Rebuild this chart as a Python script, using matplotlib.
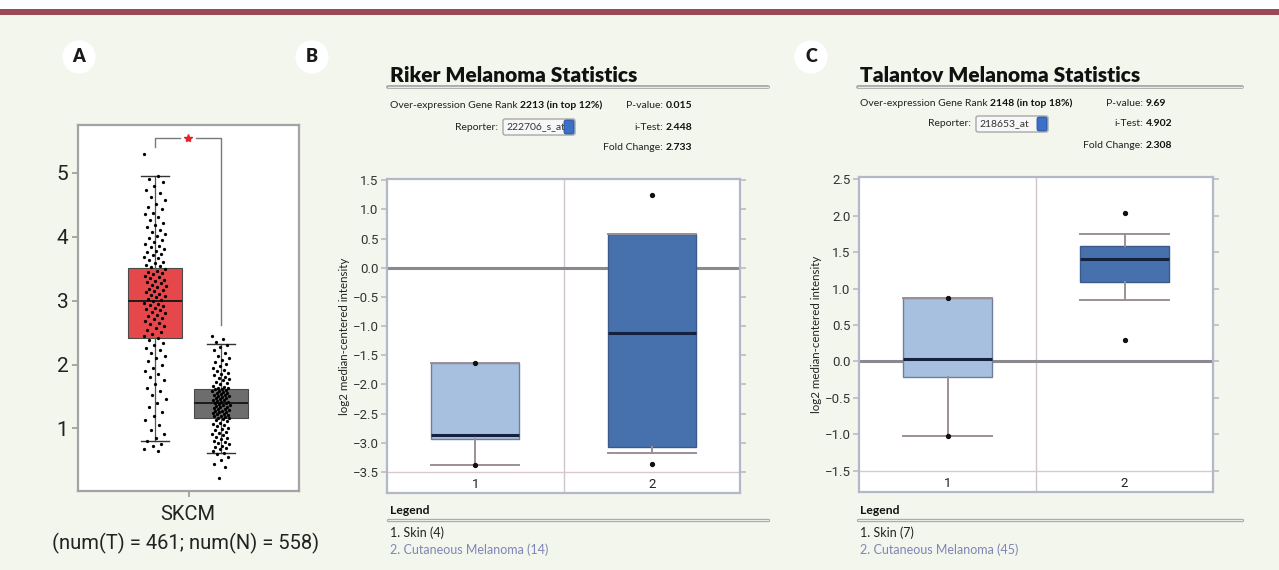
import matplotlib
matplotlib.use('Agg')
import matplotlib.pyplot as plt
from matplotlib.patches import Rectangle, FancyBboxPatch

W, H = 1279, 570
BG = '#f3f6ec'
NARROW = ['Roboto', 'DejaVu Sans']
HUMAN = ['Lato', 'DejaVu Sans']

# ---- A: GEPIA, SKCM tumour vs normal ----
gepia_name = 'SKCM'
gepia_counts = [461, 558]
gepia_med = [3.00, 1.39]
gepia_q1 = [2.42, 1.16]
gepia_q3 = [3.51, 1.62]
gepia_lo = [0.80, 0.61]
gepia_hi = [4.95, 2.32]
gepia_colors = ['#e5474b', '#6d6d6d']

tumor_points = [
    5.30, 4.95, 4.90, 4.86, 4.80, 4.74, 4.69, 4.62, 4.58, 4.52,
    4.47, 4.43, 4.38, 4.35, 4.31, 4.27, 4.22, 4.18, 4.15, 4.11, 4.08, 4.04, 4.01,
    3.98, 3.95, 3.92, 3.89, 3.86, 3.84, 3.81, 3.78, 3.76, 3.73, 3.71, 3.68, 3.66,
    3.63, 3.61, 3.59, 3.56, 3.54, 3.52,
    3.49, 3.47, 3.45, 3.43, 3.41, 3.39, 3.37, 3.35, 3.33, 3.31, 3.29, 3.27, 3.25,
    3.23, 3.21, 3.19, 3.17, 3.15, 3.13, 3.11, 3.09, 3.07, 3.05, 3.03, 3.01,
    2.99, 2.97, 2.95, 2.93, 2.91, 2.89, 2.87, 2.85, 2.83, 2.80, 2.78, 2.76, 2.73,
    2.71, 2.68, 2.65, 2.63, 2.60, 2.57, 2.54, 2.51, 2.48, 2.45, 2.42,
    2.38, 2.34, 2.30, 2.26, 2.22, 2.18, 2.14, 2.10, 2.05, 2.00, 1.95, 1.90, 1.85,
    1.80, 1.75, 1.70, 1.64, 1.58, 1.52,
    1.46, 1.40, 1.33, 1.26, 1.20, 1.13, 1.05, 0.98, 0.91, 0.85, 0.80, 0.76, 0.72,
    0.68, 0.64,
]
normal_points = [
    2.45, 2.40, 2.36, 2.31, 2.27, 2.22, 2.18, 2.14, 2.10, 2.07, 2.04, 2.01, 1.98,
    1.95, 1.92, 1.90, 1.87, 1.85, 1.83, 1.81, 1.79, 1.77, 1.75, 1.73, 1.71, 1.69,
    1.67, 1.65, 1.64, 1.63, 1.62, 1.61, 1.60, 1.59, 1.58, 1.57, 1.56, 1.55, 1.54,
    1.53, 1.52, 1.51, 1.50, 1.49, 1.48, 1.47, 1.46, 1.45, 1.44, 1.43, 1.42, 1.41,
    1.40, 1.39, 1.38, 1.37, 1.36, 1.35, 1.34, 1.33, 1.32, 1.31, 1.30, 1.29, 1.28,
    1.27, 1.26, 1.25, 1.24, 1.23, 1.22, 1.21, 1.20, 1.19, 1.18, 1.17, 1.16, 1.15,
    1.13, 1.11, 1.09, 1.07, 1.05, 1.03, 1.01, 0.99, 0.97, 0.95, 0.93, 0.91, 0.89,
    0.87, 0.85, 0.83, 0.81, 0.79, 0.77, 0.75, 0.73, 0.71, 0.69, 0.67, 0.65, 0.62,
    0.60, 0.55, 0.50, 0.45, 0.40, 0.22,
]

# ---- B: Riker ----
riker_title = 'Riker Melanoma Statistics'
riker_rank = ['2213', '12%']
riker_reporter = '222706_s_at'
riker_stats = [('P-value:', '0.015'), ('i-Test:', '2.448'), ('Fold Change:', '2.733')]
riker_med = [-2.86, -1.12]
riker_q1 = [-2.93, -3.07]
riker_q3 = [-1.63, 0.57]
riker_lo = [-3.38, -3.18]
riker_hi = [-1.63, 0.57]
riker_dots = [[-1.63, -3.38], [1.25, -3.36]]
riker_n = [4, 14]
riker_yticks = [1.5, 1.0, 0.5, 0.0, -0.5, -1.0, -1.5, -2.0, -2.5, -3.0, -3.5]

# ---- C: Talantov ----
talantov_title = 'Talantov Melanoma Statistics'
talantov_rank = ['2148', '18%']
talantov_reporter = '218653_at'
talantov_stats = [('P-value:', '9.69'), ('i-Test:', '4.902'), ('Fold Change:', '2.308')]
talantov_med = [0.03, 1.41]
talantov_q1 = [-0.21, 1.09]
talantov_q3 = [0.87, 1.58]
talantov_lo = [-1.02, 0.84]
talantov_hi = [0.87, 1.75]
talantov_dots = [[0.87, -1.02], [2.03, 0.29]]
talantov_n = [7, 45]
talantov_yticks = [2.5, 2.0, 1.5, 1.0, 0.5, 0.0, -0.5, -1.0, -1.5]

group_names = ['Skin', 'Cutaneous Melanoma']


def px_rect(x0, y0, x1, y1):
    return [x0 / W, 1 - y1 / H, (x1 - x0) / W, (y1 - y0) / H]


fig = plt.figure(figsize=(W / 100, H / 100), dpi=100, facecolor=BG)
bg = fig.add_axes([0, 0, 1, 1])
bg.set_xlim(0, W)
bg.set_ylim(H, 0)
bg.axis('off')

# top band
bg.add_patch(Rectangle((0, 0), W, 9, color='white', lw=0))
bg.add_patch(Rectangle((0, 9), W, 5.5, color='#9b4954', lw=0))

# panel letters
for letter, x in [('A', 79), ('B', 312), ('C', 811)]:
    bg.text(x, 57, letter, ha='center', va='center', fontsize=13,
            fontweight='heavy', family=HUMAN, color='#1a1a1a',
            bbox=dict(boxstyle='circle,pad=0.45', fc='white', ec='none'))

# ---------------- panel A ----------------
axA = fig.add_axes(px_rect(78, 125, 299, 491))
posA = [0.348, 0.647]
statsA = [dict(med=gepia_med[i], q1=gepia_q1[i], q3=gepia_q3[i],
               whislo=gepia_lo[i], whishi=gepia_hi[i], fliers=[])
          for i in range(2)]
bpA = axA.bxp(statsA, positions=posA, widths=0.245, capwidths=0.13,
              patch_artist=True, showfliers=False,
              medianprops=dict(color='#1b1b1b', lw=1.4),
              whiskerprops=dict(color='#555555', lw=0.9),
              capprops=dict(color='#333333', lw=1.0),
              boxprops=dict(lw=0.8))
for patch, c in zip(bpA['boxes'], gepia_colors):
    patch.set_facecolor(c)
    patch.set_edgecolor('#4a4a4a')

# jittered points; the offsets only spread the dots sideways
for pos, pts, spread in [(posA[0], tumor_points, 0.05), (posA[1], normal_points, 0.04)]:
    xs = [pos + ((i * 0.6180339) % 1 - 0.5) * 2 * spread for i in range(len(pts))]
    axA.scatter(xs, pts, s=5.5, color='black', lw=0, zorder=5)

# significance bracket
br_y = 5.55
axA.plot([posA[0], posA[0], 0.46], [5.40, br_y, br_y], color='#7a7a7a', lw=1.0)
axA.plot([0.535, posA[1], posA[1]], [br_y, br_y, 2.62], color='#7a7a7a', lw=1.0)
axA.plot([0.498], [br_y], marker='*', color='#e8212b', markersize=6, lw=0)

axA.set_xlim(0, 1)
axA.set_ylim(0.02, 5.75)
axA.set_yticks([1, 2, 3, 4, 5])
axA.set_yticklabels(['1', '2', '3', '4', '5'], family=NARROW, fontsize=15,
                    color='#222222')
axA.set_xticks([0.5])
axA.set_xticklabels([''])
axA.tick_params(axis='both', color='#9a9a9a', length=4, width=1.2, pad=3)
for s in axA.spines.values():
    s.set_color('#a3a3a3')
    s.set_linewidth(1.6)
axA.set_facecolor('white')
bg.text(188, 515, gepia_name, ha='center', va='center', fontsize=14.5,
        family=NARROW, color='#222222')
bg.text(186, 543, f'(num(T) = {gepia_counts[0]}; num(N) = {gepia_counts[1]})',
        ha='center', va='center', fontsize=14.5, family=NARROW, color='#222222')


# ---------------- panels B and C ----------------
def header(x0, x_col, x_line1, y_title, y_rows, title, rank, reporter, stats, box_x):
    bg.text(x0, y_title, title, ha='left', va='baseline', fontsize=15,
            fontweight='heavy', family=HUMAN, color='#111111')
    bg.plot([x0 - 2, x_line1], [y_title + 5, y_title + 5], color='#a9a9a9',
            lw=2.8, solid_capstyle='round')
    bg.plot([x0 - 2, x_line1], [y_title + 5, y_title + 5], color='#e9e9e9',
            lw=0.9, solid_capstyle='round')
    t = bg.text(x0, y_rows[0], 'Over-expression Gene Rank ', ha='left', va='center',
                fontsize=7.5, family=HUMAN, color='#222222')
    bg.annotate(f'{rank[0]} (in top {rank[1]})', xy=(1, 0.5), xycoords=t,
                ha='left', va='center', fontsize=7.5, fontweight='bold',
                family=HUMAN, color='#111111')
    for (lab, val), yy in zip(stats, y_rows):
        bg.text(x_col, yy, lab, ha='right', va='center', fontsize=7.5,
                family=HUMAN, color='#222222')
        bg.text(x_col + 3, yy, val, ha='left', va='center', fontsize=7.5,
                fontweight='bold', family=HUMAN, color='#111111')
    bg.text(box_x - 5, y_rows[1], 'Reporter:', ha='right', va='center',
            fontsize=7.5, family=HUMAN, color='#222222')
    bg.add_patch(FancyBboxPatch((box_x, y_rows[1] - 8), 72, 16,
                                boxstyle='round,pad=0,rounding_size=2',
                                fc='#f7f7f7', ec='#a8a8a8', lw=1.0))
    bg.add_patch(FancyBboxPatch((box_x + 61, y_rows[1] - 7), 10, 14,
                                boxstyle='round,pad=0,rounding_size=2',
                                fc='#3c6fc6', ec='#28509a', lw=0.6))
    bg.text(box_x + 3, y_rows[1], reporter, ha='left', va='center', fontsize=7.5,
            family=HUMAN, color='#333333')


def oncomine(rect, ylim, yticks, med, q1, q3, lo, hi, dots):
    ax = fig.add_axes(rect)
    ax.set_facecolor('white')
    stats = [dict(med=med[i], q1=q1[i], q3=q3[i], whislo=lo[i], whishi=hi[i],
                  fliers=dots[i]) for i in range(2)]
    bp = ax.bxp(stats, positions=[1, 2], widths=0.5, capwidths=0.5,
                patch_artist=True, zorder=3,
                medianprops=dict(color='#14213f', lw=2.2),
                whiskerprops=dict(color='#9c8f96', lw=1.4),
                capprops=dict(color='#9c8f96', lw=1.4),
                boxprops=dict(lw=1.0),
                flierprops=dict(marker='o', markersize=2.8, mfc='#111111',
                                mec='#111111', lw=0))
    for patch, fc, ec in zip(bp['boxes'], ['#a8c0df', '#4771ad'], ['#6d7f99', '#3a5a8c']):
        patch.set_facecolor(fc)
        patch.set_edgecolor(ec)
    ax.axhline(0, color='#8b8890', lw=2.2, zorder=2)
    ax.axhline(yticks[-1], color='#d9c9cd', lw=1.0, zorder=2)
    ax.axvline(1.5, color='#cfc6cc', lw=1.0, zorder=1)
    ax.set_xlim(0.5, 2.5)
    ax.set_ylim(*ylim)
    ax.set_yticks(yticks)
    ax.set_yticklabels([f'{v:.1f}'.replace('-', '\u2212') for v in yticks],
                       family=NARROW, fontsize=9.5, color='#333333')
    ax.set_xticks([1, 2])
    ax.set_xticklabels(['1', '2'], family=NARROW, fontsize=9.5, color='#222222')
    ax.tick_params(axis='x', length=0, pad=-11)
    ax.tick_params(axis='y', length=4, width=1.2, color='#b7bccb', pad=2,
                   right=True)
    for s in ax.spines.values():
        s.set_color('#b3b7c6')
        s.set_linewidth(1.6)
    ax.set_ylabel('log2 median-centered intensity', family=HUMAN, fontsize=8.3,
                  color='#222222', labelpad=2)
    return ax


def legend_block(x0, x1, ns):
    bg.text(x0, 511, 'Legend', ha='left', va='center', fontsize=8.7,
            fontweight='bold', family=HUMAN, color='#111111')
    bg.plot([x0 - 2, x1], [520, 520], color='#a9a9a9', lw=2.4, solid_capstyle='round')
    bg.plot([x0 - 2, x1], [520, 520], color='#e9e9e9', lw=0.8, solid_capstyle='round')
    bg.text(x0, 533, f'1. {group_names[0]} ({ns[0]})', ha='left', va='center',
            fontsize=9, family=HUMAN, color='#222222')
    bg.text(x0, 550, f'2. {group_names[1]} ({ns[1]})', ha='left', va='center',
            fontsize=9, family=HUMAN, color='#7f85b6')


header(390, 663, 768, 82, [105, 127, 148], riker_title, riker_rank,
       riker_reporter, riker_stats, 503)
axB = oncomine(px_rect(387, 179, 740, 493), (-3.86, 1.52), riker_yticks,
               riker_med, riker_q1, riker_q3, riker_lo, riker_hi, riker_dots)
legend_block(390, 768, riker_n)

header(860, 1143, 1242, 82, [103, 124, 145], talantov_title, talantov_rank,
       talantov_reporter, talantov_stats, 976)
axC = oncomine(px_rect(859, 177, 1213, 492), (-1.79, 2.53), talantov_yticks,
               talantov_med, talantov_q1, talantov_q3, talantov_lo, talantov_hi,
               talantov_dots)
legend_block(860, 1242, talantov_n)

fig.savefig('out.png', dpi=100, facecolor=BG)
